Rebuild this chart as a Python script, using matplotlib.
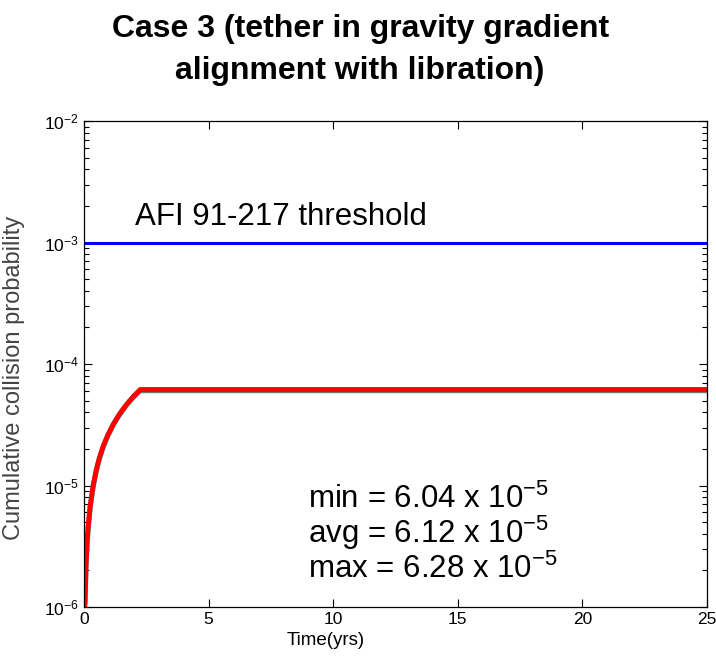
import numpy as np
import matplotlib.pyplot as plt
from matplotlib.ticker import LogLocator, NullFormatter

plt.rcParams['font.family'] = ['Liberation Sans', 'DejaVu Sans']
plt.rcParams['mathtext.fontset'] = 'custom'
plt.rcParams['mathtext.rm'] = 'Liberation Sans'
plt.rcParams['mathtext.it'] = 'Liberation Sans:italic'
plt.rcParams['mathtext.bf'] = 'Liberation Sans:bold'

# cumulative collision probability vs time (years)
time_yrs = [0.0, 0.02, 0.04, 0.08, 0.12, 0.17, 0.25, 0.37, 0.5, 0.62, 0.77, 0.95,
            1.18, 1.4, 1.71, 2.0, 2.25, 25.0]
prob_avg = [1.0e-6, 1.0e-6, 1.1e-6, 2.2e-6, 3.3e-6, 4.6e-6, 6.8e-6, 1.0e-5, 1.36e-5,
            1.69e-5, 2.1e-5, 2.58e-5, 3.2e-5, 3.8e-5, 4.65e-5, 5.44e-5, 6.12e-5, 6.12e-5]
prob_min = [1.0e-6, 1.0e-6, 1.1e-6, 2.2e-6, 3.2e-6, 4.5e-6, 6.7e-6, 9.9e-6, 1.34e-5,
            1.67e-5, 2.07e-5, 2.55e-5, 3.16e-5, 3.75e-5, 4.6e-5, 5.37e-5, 6.04e-5, 6.04e-5]
prob_max = [1.0e-6, 1.0e-6, 1.1e-6, 2.3e-6, 3.4e-6, 4.7e-6, 7.0e-6, 1.03e-5, 1.4e-5,
            1.73e-5, 2.15e-5, 2.65e-5, 3.28e-5, 3.9e-5, 4.77e-5, 5.58e-5, 6.28e-5, 6.28e-5]

threshold = 1e-3
xticks = [0, 5, 10, 15, 20, 25]

fig = plt.figure(figsize=(7.16, 6.58), dpi=100)
ax = fig.add_axes([0.1173, 0.0775, 0.870, 0.7386])

ax.axhline(threshold, color='#0000ff', lw=2.2)
ax.plot(time_yrs, prob_max, color='#2a9a3a', lw=2.2)
ax.plot(time_yrs, prob_min, color='#30c0c0', lw=3.8)
ax.plot(time_yrs, prob_avg, color='#ff0000', lw=3.6)

ax.set_yscale('log')
ax.set_xlim(0, 25)
ax.set_ylim(1e-6, 1e-2)
ax.set_xticks(xticks)
ax.yaxis.set_major_locator(LogLocator(base=10, numticks=10))
ax.yaxis.set_minor_locator(LogLocator(base=10, subs=np.arange(2, 10), numticks=10))
ax.yaxis.set_minor_formatter(NullFormatter())
ax.tick_params(which='both', direction='in', top=True, right=True, labelsize=12.5)
ax.tick_params(which='major', length=6, width=0.8)
ax.tick_params(which='minor', length=3.5, width=0.8)
for s in ax.spines.values():
    s.set_linewidth(0.9)

ax.set_xlabel('Time(yrs)', fontsize=13.5)
ax.xaxis.set_label_coords(0.388, -0.052)
ax.set_ylabel('Cumulative collision probability', fontsize=17, color='#444444')
ax.yaxis.set_label_coords(-0.094, 0.471)

fig.text(0.503, 0.978, 'Case 3 (tether in gravity gradient\nalignment with libration)',
         fontsize=23, fontweight='bold', ha='center', va='top', linespacing=1.5)

ax.text(2.05, 1.39e-3, 'AFI 91-217 threshold', fontsize=22.5)
ax.text(9.0, 6.5e-6, r'min = 6.04 x 10$^{\mathregular{-5}}$', fontsize=22.5)
ax.text(9.0, 3.35e-6, r'avg = 6.12 x 10$^{\mathregular{-5}}$', fontsize=22.5)
ax.text(9.0, 1.72e-6, r'max = 6.28 x 10$^{\mathregular{-5}}$', fontsize=22.5)

fig.savefig('out.png', dpi=100)
